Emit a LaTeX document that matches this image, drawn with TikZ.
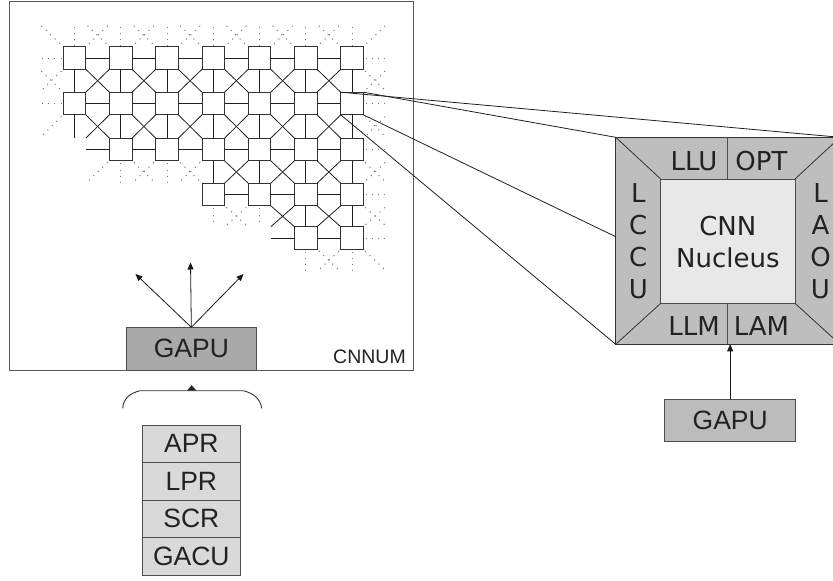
\documentclass[tikz,border=0pt]{standalone}
\usepackage{fontspec}
\setmainfont{Liberation Sans}
\newfontfamily\dejavu{DejaVu Sans}
\usetikzlibrary{arrows.meta,calc}

\definecolor{shellgray}{HTML}{BEBEBE}
\definecolor{coregray}{HTML}{E8E8E8}
\definecolor{stackgray}{HTML}{D9D9D9}
\definecolor{gapudark}{HTML}{A9A9A9}
\definecolor{gapulight}{HTML}{BCBCBC}
\definecolor{inkgray}{HTML}{222222}

\begin{document}
\begin{tikzpicture}[x=1pt,y=-1pt,
  ghost/.style={minimum size=22.6pt,inner sep=0pt,outer sep=0pt},
  cellbox/.style={ghost,draw=black!80,fill=white,line width=0.9pt},
  link/.style={draw=black!88,line width=0.8pt},
  dotlink/.style={draw=black!55,line width=1pt,dash pattern=on 1pt off 5.2pt,dash phase=-2.5pt},
  arrowline/.style={draw=black!90,line width=0.8pt,-{Triangle[length=7pt,width=6pt]}},
  framebox/.style={draw=black!65,line width=1pt,inner sep=0pt,outer sep=0pt},
  dvlabel/.style={font=\dejavu\fontsize{26}{32}\selectfont,text=inkgray,inner sep=0pt,align=center},
  unitbox/.style={draw=black!70,line width=0.9pt,inner sep=0pt,outer sep=0pt,
    font=\fontsize{26.5}{31}\selectfont,text=inkgray},
]
\useasboundingbox (0,0) rectangle (833,581);

% ---------- CNNUM frame ----------
\node[framebox,minimum width=404pt,minimum height=369.5pt,anchor=north west] (cnnum) at (9.5,1) {};
\node[font=\fontsize{19.5}{22}\selectfont,text=inkgray,anchor=east,inner sep=0pt] (cnnumtxt) at (406,356.5) {CNNUM};

% ---------- lattice positions (rows 0..6, columns 0..8) ----------
\foreach \r/\y in {0/12.8,1/58,2/103.5,3/149.5,4/194.5,5/238,6/283}{
  \foreach \c in {0,...,8}{
    \node[ghost] (c\r\c) at ({74.5+46.25*(\c-1)},\y) {};
  }
}
% cells that are actually present
\foreach \r/\c in {1/1,1/2,1/3,1/4,1/5,1/6,1/7,
                   2/1,2/2,2/3,2/4,2/5,2/6,2/7,
                   3/2,3/3,3/4,3/5,3/6,3/7,
                   4/4,4/5,4/6,4/7,
                   5/6,5/7}{
  \node[cellbox] (c\r\c) at (c\r\c.center) {};
}

% ---------- solid links ----------
% horizontal: cell (r,c) to (r,c+1)
\foreach \r/\c in {1/1,1/2,1/3,1/4,1/5,1/6,2/1,2/2,2/3,2/4,2/5,2/6,
                   3/1,3/2,3/3,3/4,3/5,3/6,4/4,4/5,4/6,5/5,5/6}{
  \pgfmathtruncatemacro\n{\c+1}
  \draw[link] (c\r\c.east) -- (c\r\n.west);
}
% vertical: cell (r,c) to (r+1,c)
\foreach \r/\c in {1/1,1/2,1/3,1/4,1/5,1/6,1/7,2/1,2/2,2/3,2/4,2/5,2/6,2/7,
                   3/4,3/5,3/6,3/7,4/6,4/7}{
  \pgfmathtruncatemacro\m{\r+1}
  \draw[link] (c\r\c.south) -- (c\m\c.north);
}
% diagonal crosses between (r,c),(r,c+1),(r+1,c),(r+1,c+1)
\foreach \r/\c in {1/1,1/2,1/3,1/4,1/5,1/6,2/1,2/2,2/3,2/4,2/5,2/6,
                   3/4,3/5,3/6,4/5,4/6}{
  \pgfmathtruncatemacro\m{\r+1}
  \pgfmathtruncatemacro\n{\c+1}
  \draw[link] (c\r\c.south east) -- (c\m\n.north west);
  \draw[link] (c\r\n.south west) -- (c\m\c.north east);
}

% ---------- dotted continuation stubs ----------
\foreach \r/\c in {1/0,2/0,1/7,2/7,3/7,4/7,5/7}{
  \pgfmathtruncatemacro\n{\c+1}
  \draw[dotlink] (c\r\c.east) -- (c\r\n.west);
}
\foreach \r/\c in {0/1,0/2,0/3,0/4,0/5,0/6,0/7,3/2,3/3,4/4,4/5,5/6,5/7}{
  \pgfmathtruncatemacro\m{\r+1}
  \draw[dotlink] (c\r\c.south) -- (c\m\c.north);
}
% "\" direction: (r,c) south east to (r+1,c+1) north west
\foreach \r/\c in {0/0,0/1,0/2,0/3,0/4,0/5,0/6,1/0,1/7,2/7,3/7,4/7,5/7,
                   3/2,3/3,4/4,5/6}{
  \pgfmathtruncatemacro\m{\r+1}
  \pgfmathtruncatemacro\n{\c+1}
  \draw[dotlink] (c\r\c.south east) -- (c\m\n.north west);
}
% "/" direction: (r,c+1) south west to (r+1,c) north east
\foreach \r/\c in {0/1,0/2,0/3,0/4,0/5,0/6,0/7,1/0,2/0,1/7,2/7,3/7,4/7,
                   3/1,3/2,3/3,4/4,5/6}{
  \pgfmathtruncatemacro\m{\r+1}
  \pgfmathtruncatemacro\n{\c+1}
  \draw[dotlink] (c\r\n.south west) -- (c\m\c.north east);
}

% ---------- GAPU inside the CNNUM ----------
\node[unitbox,fill=gapudark,minimum width=130.7pt,minimum height=42.7pt] (gapuL) at (191.35,348.65) {GAPU};
\coordinate (tipL) at (135.5,274);
\coordinate (tipU) at (190.5,262.5);
\coordinate (tipR) at (243.5,274);
\draw[arrowline] (gapuL.north) -- (tipL);
\draw[arrowline] (gapuL.north) -- (tipU);
\draw[arrowline] (gapuL.north) -- (tipR);

% ---------- register stack ----------
\node[unitbox,fill=stackgray,minimum width=97.3pt,minimum height=37.5pt] (apr)  at (191.35,443.75) {APR};
\node[unitbox,fill=stackgray,minimum width=97.3pt,minimum height=37.5pt] (lpr)  at (191.35,481.25) {LPR};
\node[unitbox,fill=stackgray,minimum width=97.3pt,minimum height=37.5pt] (scr)  at (191.35,518.75) {SCR};
\node[unitbox,fill=stackgray,minimum width=97.3pt,minimum height=37.5pt] (gacu) at (191.35,556.25) {GACU};

% brace gathering the stack, with its pointer
\draw[black!80,line width=0.9pt]
  (122.7,408.3) .. controls (123.5,399) and (129,393.5) .. (140,390.7)
  -- (243.3,390.7)
  .. controls (254,393.5) and (260.5,399) .. (261.7,408.3);
\fill[black!85] (186.9,390.7) -- (191.7,385.2) -- (196.5,390.7) -- cycle;

% ---------- enlarged cell ----------
\node[framebox,draw=black!80,fill=shellgray,minimum width=224.3pt,minimum height=207pt,anchor=north west] (shell) at (615.7,137.3) {};
\node[framebox,draw=black!70,fill=coregray,minimum width=134.3pt,minimum height=124.3pt,anchor=north west] (nucleus) at (660.7,179) {};
\draw[black!80,line width=0.8pt] (shell.north west) -- (nucleus.north west);
\draw[black!80,line width=0.8pt] (shell.north east) -- (nucleus.north east);
\draw[black!80,line width=0.8pt] (shell.south west) -- (nucleus.south west);
\draw[black!80,line width=0.8pt] (shell.south east) -- (nucleus.south east);
\draw[black!70,line width=0.9pt] (shell.north) -- (nucleus.north);
\draw[black!70,line width=0.9pt] (nucleus.south) -- (shell.south);

\node[dvlabel] (coretxt) at (727.85,242) {CNN\\Nucleus};
\node[dvlabel] (llu) at (694,161.5) {LLU};
\node[dvlabel] (opt) at (761.5,161.5) {OPT};
\node[dvlabel] (llm) at (694,326) {LLM};
\node[dvlabel] (lam) at (761.5,326) {LAM};
\node[dvlabel] (lccu) at (638.3,241) {L\\C\\C\\U};
\node[dvlabel] (laou) at (820.5,241) {L\\A\\O\\U};

% projection lines from the magnified cell
\coordinate (shellwest) at (615.7,236.7);
\draw[link] (c27.north west) -- (shell.north east);
\draw[link] (c27.north east) -- (shell.north west);
\draw[link] (c27.south east) -- (shellwest);
\draw[link] (c27.south west) -- (shell.south west);

% ---------- GAPU feeding the cell ----------
\node[unitbox,fill=gapulight,minimum width=131pt,minimum height=42pt] (gapuR) at (730.2,420) {GAPU};
\draw[arrowline] (gapuR.north) -- (gapuR.north |- shell.south);
\end{tikzpicture}
\end{document}
